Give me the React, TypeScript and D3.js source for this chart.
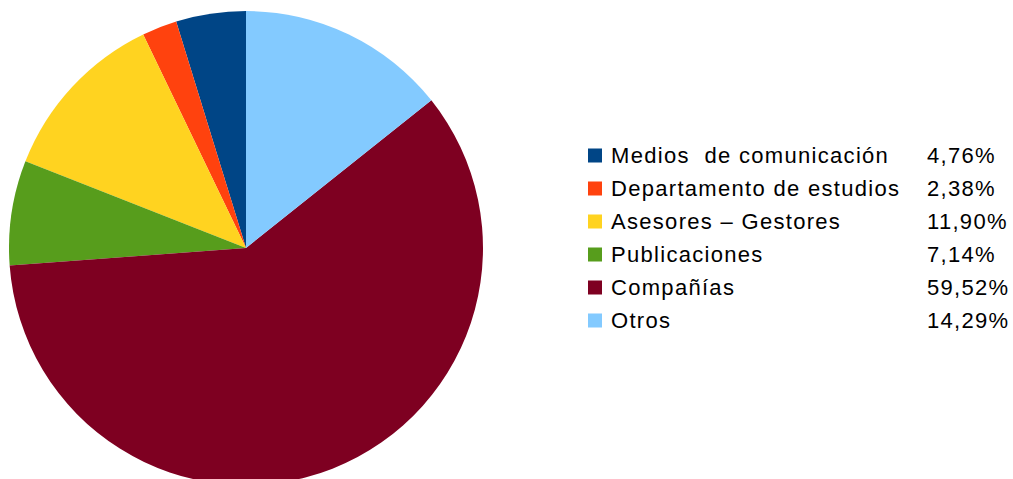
import React from "react";
import * as d3 from "d3";

const categories = [
  "Medios  de comunicación",
  "Departamento de estudios",
  "Asesores – Gestores",
  "Publicaciones",
  "Compañías",
  "Otros",
];
const values = [4.76, 2.38, 11.9, 7.14, 59.52, 14.29];
const valueLabels = ["4,76%", "2,38%", "11,90%", "7,14%", "59,52%", "14,29%"];
const colors = ["#004586", "#ff420e", "#ffd320", "#579d1c", "#7e0021", "#83caff"];

export default function App() {
  const W = 1013, H = 479;
  const cx = 246, cy = 248, r = 237;
  // counter-clockwise from top in legend order
  const pie = d3
    .pie<number>()
    .sort(null)
    .startAngle(0)
    .endAngle(-2 * Math.PI)
    .value((d) => d);
  const arcs = pie(values);
  const arc = d3.arc<d3.PieArcDatum<number>>().innerRadius(0).outerRadius(r);
  const legendY = d3.scaleLinear().domain([0, 1]).range([155.5, 188.5]);
  return (
    <svg
      width={W}
      height={H}
      style={{ position: "absolute", left: 0, top: 0, background: "#fff" }}
    >
      <g transform={`translate(${cx},${cy})`}>
        {arcs.map((a, i) => (
          <path key={i} d={arc(a) || ""} fill={colors[i]} />
        ))}
      </g>
      <g fontFamily="Liberation Sans, Arial, sans-serif" fontSize={22} fill="#000">
        {categories.map((c, i) => {
          const y = legendY(i);
          return (
            <g key={i}>
              <rect x={588} y={y - 7} width={14} height={14} fill={colors[i]} />
              <text
                x={611}
                y={y}
                dominantBaseline="central"
                letterSpacing={1.3}
                style={{ whiteSpace: "pre" }}
              >
                {c}
              </text>
              <text x={927} y={y} dominantBaseline="central" letterSpacing={1.3}>
                {valueLabels[i]}
              </text>
            </g>
          );
        })}
      </g>
    </svg>
  );
}
